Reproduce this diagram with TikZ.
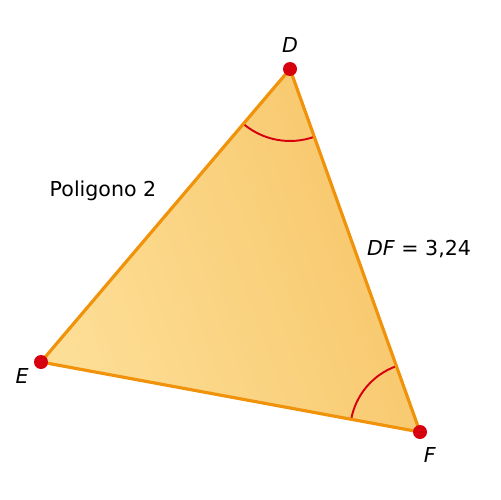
\documentclass[tikz,border=0pt]{standalone}
\usepackage{fontspec}
\setmainfont{DejaVu Sans}
\usepackage{xcolor}
\usetikzlibrary{angles,shadings}
\definecolor{bordo}{RGB}{240,146,10}
\definecolor{chiaro}{RGB}{253,222,150}
\definecolor{scuro}{RGB}{247,198,105}
\definecolor{punto}{RGB}{215,0,15}
\tikzset{
  lato/.style={bordo,line width=1.8pt,line join=round},
  vertice/.style={circle,fill=punto,inner sep=0pt,minimum size=0.28cm},
  arco/.style={draw=punto,line width=1.1pt},
  etichetta/.style={font=\fontsize{11.7}{14}\selectfont}
}
\begin{document}
\begin{tikzpicture}[x=0.02cm,y=-0.02cm]
\useasboundingbox (0,0) rectangle (500,500);
\coordinate (D) at (290,69);
\coordinate (E) at (41,362);
\coordinate (F) at (420,432);
\shade[left color=chiaro,right color=scuro,shading angle=110](D)--(E)--(F)--cycle;
\pic[arco,angle radius=1.44cm]{angle=E--D--F};
\pic[arco,angle radius=1.4cm]{angle=D--F--E};
\draw[lato](D)--(E)--(F)--cycle;
\node[vertice](pD) at (D){};
\node[vertice](pE) at (E){};
\node[vertice](pF) at (F){};
\node[etichetta](lD) at (290,45){\textit{D}};
\node[etichetta](lE) at (22,376){\textit{E}};
\node[etichetta](lF) at (430,455){\textit{F}};
\node[etichetta](nome) at (103,191){Poligono 2};
\node[etichetta](misura) at (419,249){\textit{DF} = 3,24};
\end{tikzpicture}
\end{document}
